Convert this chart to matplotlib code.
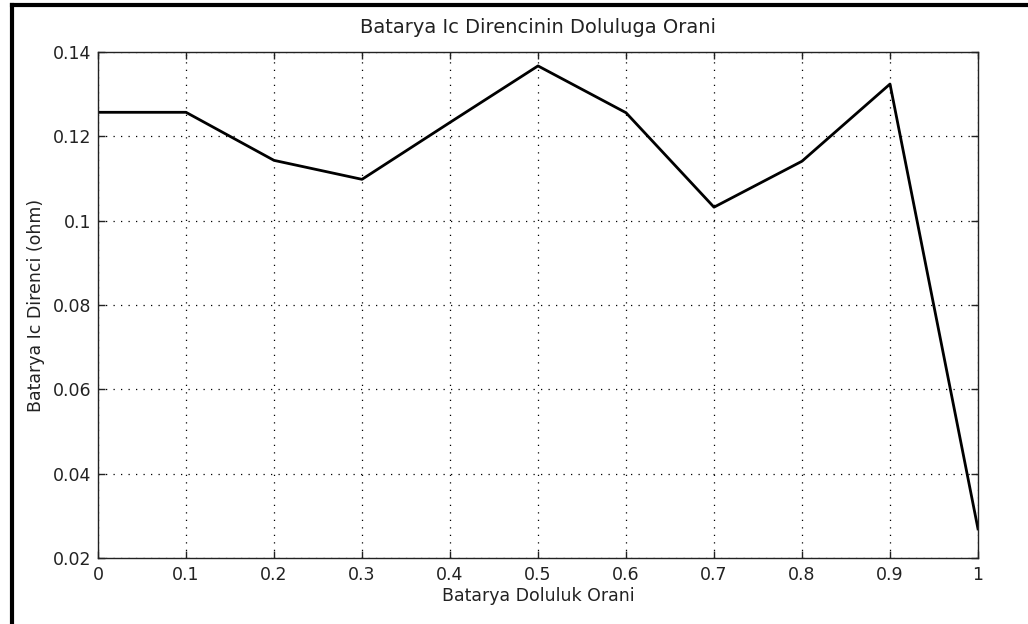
import matplotlib
matplotlib.use("Agg")
import matplotlib.pyplot as plt
from matplotlib.lines import Line2D

# State of charge vs internal resistance
doluluk = [0.0, 0.1, 0.2, 0.3, 0.4, 0.5, 0.6, 0.7, 0.8, 0.9, 1.0]
direnc = [0.1257, 0.1257, 0.1143, 0.1098, 0.1233, 0.1367, 0.1256, 0.1032, 0.1141, 0.1324, 0.0269]

xticks = [0, 0.1, 0.2, 0.3, 0.4, 0.5, 0.6, 0.7, 0.8, 0.9, 1]
xticklabels = ["0", "0.1", "0.2", "0.3", "0.4", "0.5", "0.6", "0.7", "0.8", "0.9", "1"]
yticks = [0.02, 0.04, 0.06, 0.08, 0.1, 0.12, 0.14]
yticklabels = ["0.02", "0.04", "0.06", "0.08", "0.1", "0.12", "0.14"]

plt.rcParams['font.family'] = ['DejaVu Sans']

fig = plt.figure(figsize=(10.28, 6.24), dpi=100)
ax = fig.add_axes([98 / 1028, 66 / 624, 880 / 1028, 506 / 624])

ax.plot(doluluk, direnc, color='black', linewidth=2.0)

ax.set_xlim(0, 1)
ax.set_ylim(0.02, 0.14)
ax.set_xticks(xticks)
ax.set_xticklabels(xticklabels)
ax.set_yticks(yticks)
ax.set_yticklabels(yticklabels)
ax.tick_params(direction='in', length=5, width=1, top=True, right=True,
               labelsize=12.5, colors='#222222')
ax.tick_params(axis='x', pad=6)
ax.tick_params(axis='y', pad=5)
ax.grid(True, color='black', linestyle=(0, (1, 5)), linewidth=0.9)
for s in ax.spines.values():
    s.set_linewidth(1.0)
    s.set_color('#222222')

ax.set_title("Batarya Ic Direncinin Doluluga Orani", fontsize=14, pad=14,
             color='#222222')
ax.set_xlabel("Batarya Doluluk Orani", fontsize=12.5, labelpad=2, color='#222222')
ax.set_ylabel("Batarya Ic Direnci (ohm)", fontsize=12.5, labelpad=5, color='#222222')

# frame edges around the figure window
fig.add_artist(Line2D([12 / 1028, 12 / 1028], [0, 1 - 5 / 624],
                      transform=fig.transFigure, color='black', linewidth=3))
fig.add_artist(Line2D([12 / 1028, 1], [1 - 5 / 624, 1 - 5 / 624],
                      transform=fig.transFigure, color='black', linewidth=3))

fig.savefig("out.png", dpi=100)
